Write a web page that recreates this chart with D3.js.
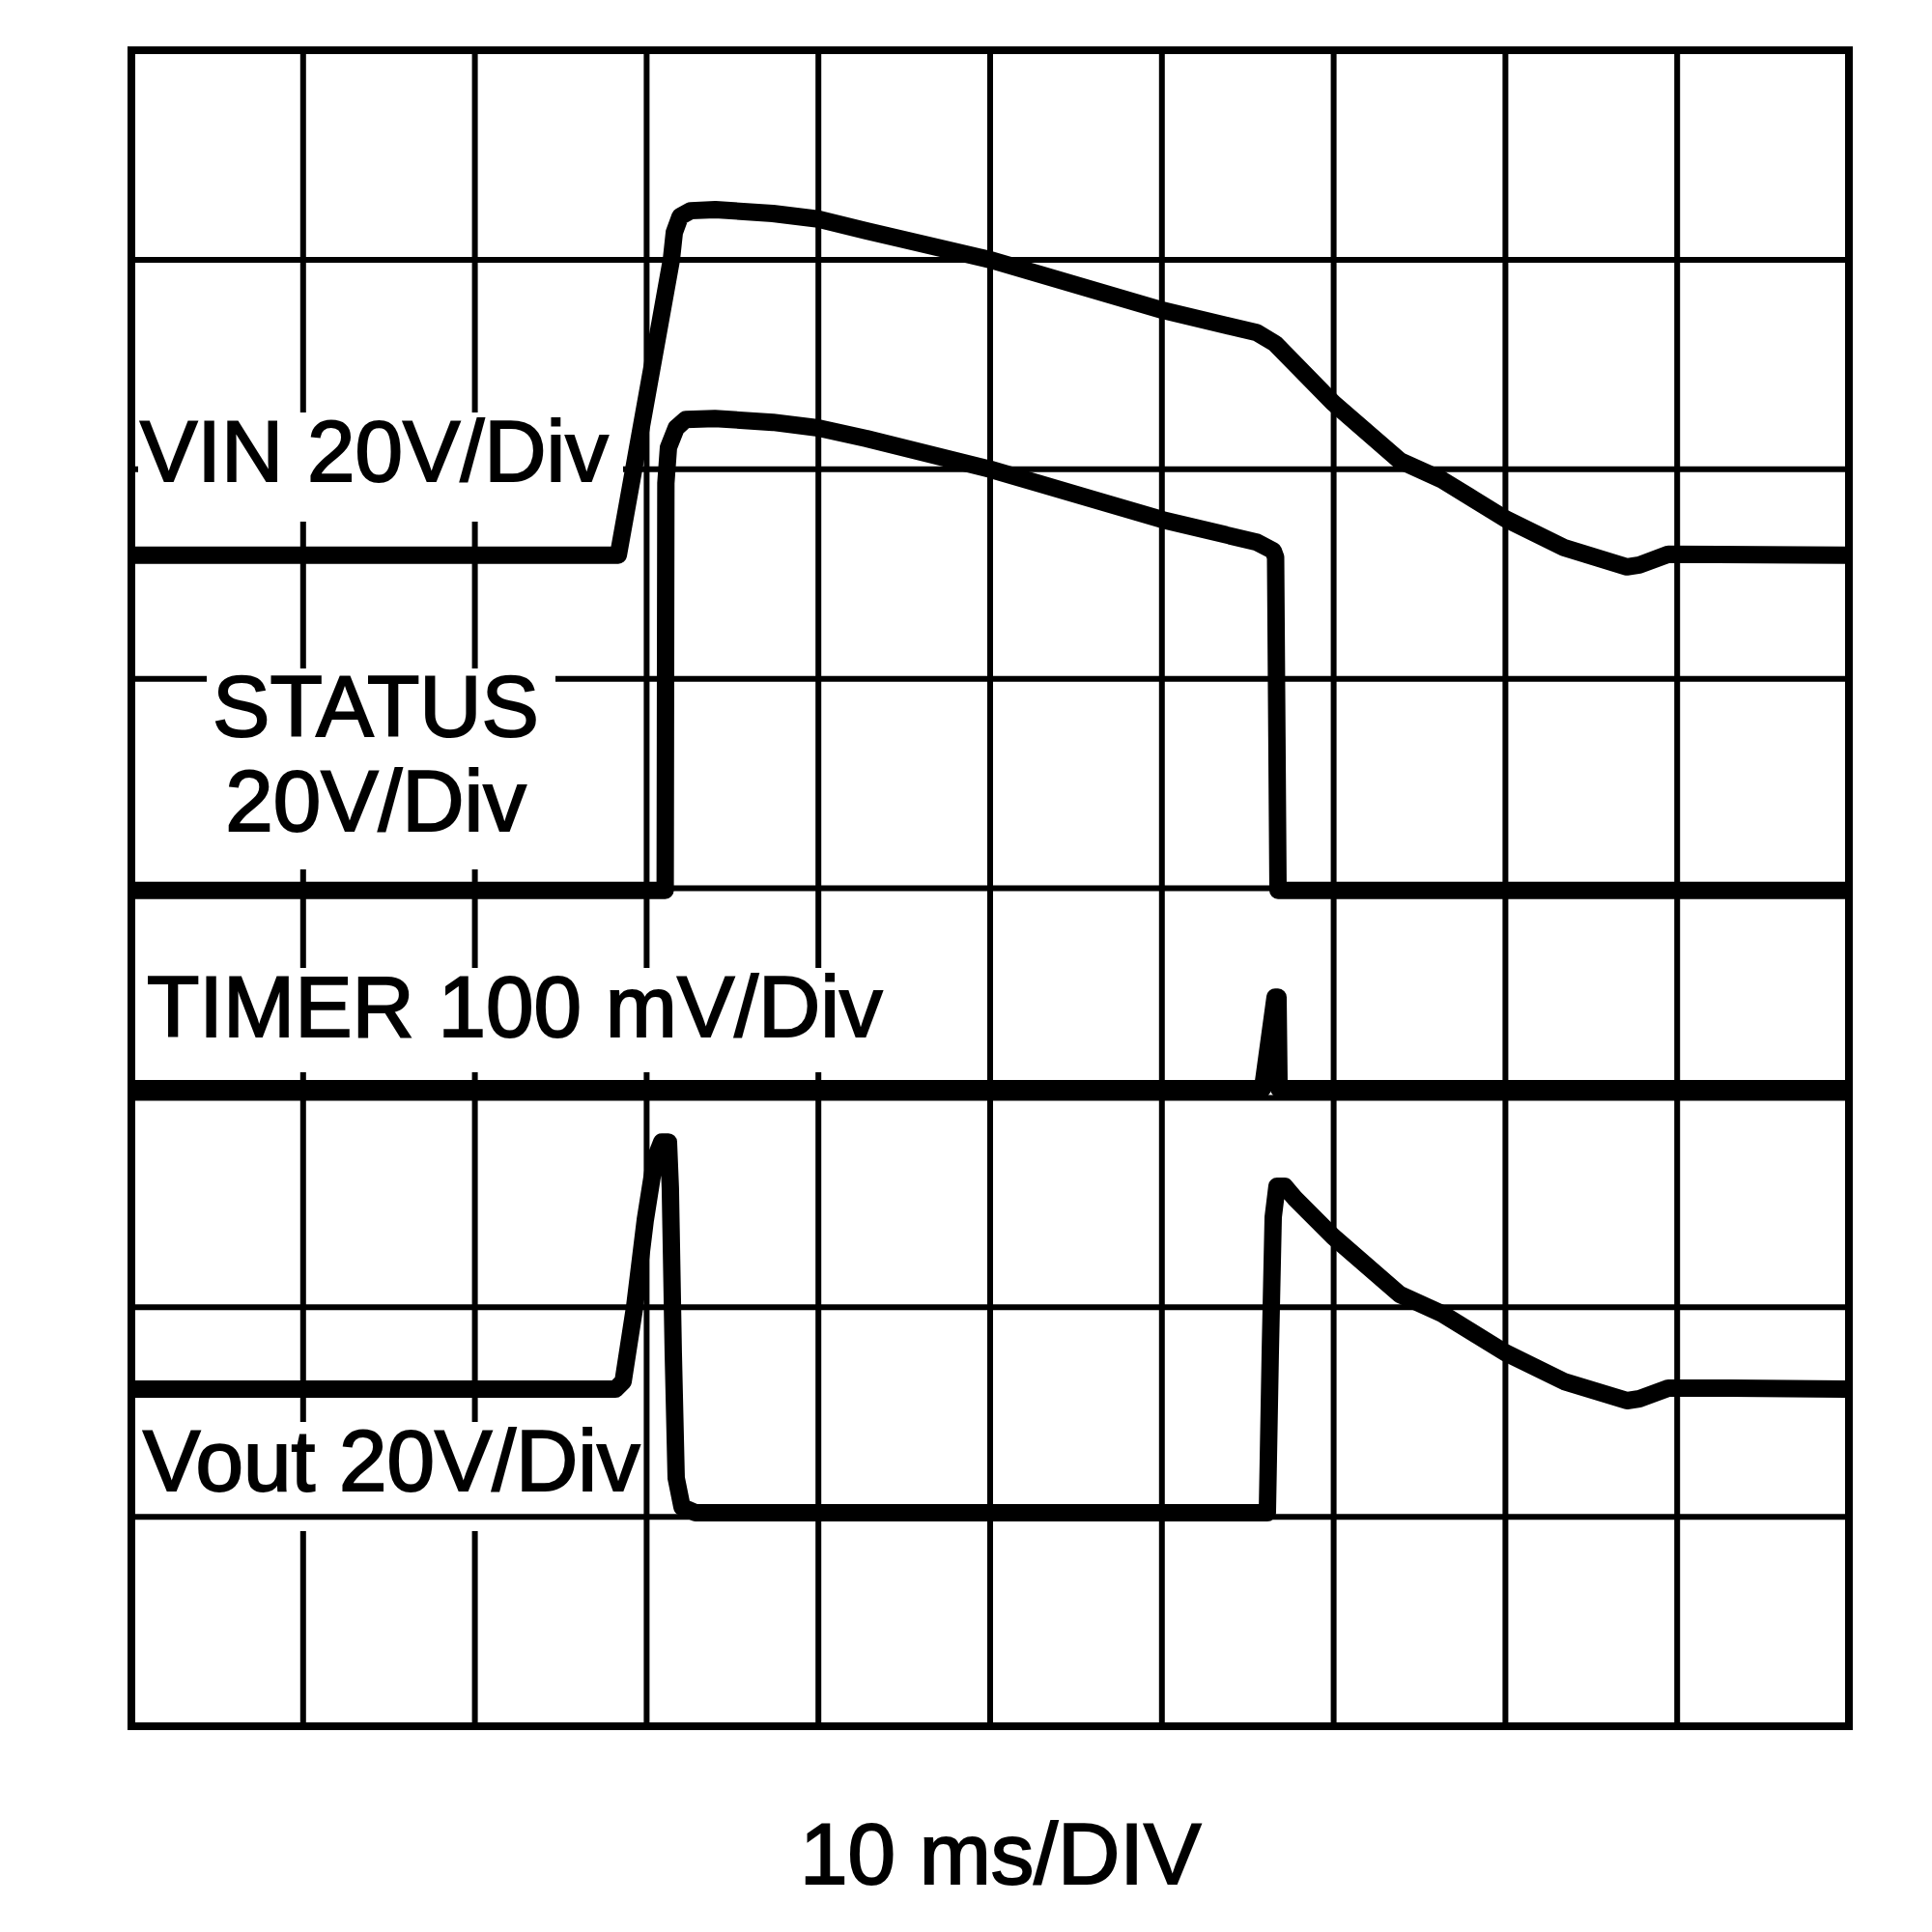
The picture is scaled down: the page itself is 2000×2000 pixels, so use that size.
<!DOCTYPE html>
<html>
<head>
<meta charset="utf-8">
<script src="https://d3js.org/d3.v7.min.js"></script>
<style>
  body { margin: 0; background: #fff; }
  text { font-family: "Liberation Sans", Arial, sans-serif; font-size: 89px; fill: #000; stroke: #000; stroke-width: 2px; }
</style>
</head>
<body>
<svg width="2000" height="2000"></svg>
<script>

// time in ms (10 ms per division), level in divisions from the bottom of the screen
var vinT = [0.2, 28.35, 31.44, 31.61, 31.95, 32.56, 34.0, 37.35, 39.99, 42.8, 50.0, 60.07, 65.52, 66.59, 69.97, 73.85, 76.32, 79.98, 83.41, 87.07, 87.8, 89.48, 99.8];
var vinV = [5.59, 5.59, 7.0, 7.13, 7.206, 7.234, 7.239, 7.221, 7.194, 7.138, 7.0, 6.758, 6.652, 6.6, 6.317, 6.041, 5.949, 5.764, 5.626, 5.534, 5.543, 5.594, 5.59];

var statusT = [0.2, 31.08, 31.12, 31.27, 31.72, 32.28, 33.97, 37.35, 39.99, 42.8, 50.0, 60.07, 65.52, 66.48, 66.62, 66.76, 99.8];
var statusV = [3.99, 3.99, 5.934, 6.104, 6.197, 6.238, 6.242, 6.224, 6.197, 6.146, 6.0, 5.758, 5.652, 5.611, 5.58, 3.99, 3.99];

var timerT = [0.2, 65.86, 66.59, 66.76, 66.82, 99.8];
var timerV = [3.043, 3.043, 3.48, 3.48, 3.043, 3.043];

var voutT = [0.2, 28.18, 28.63, 29.30, 29.92, 30.48, 30.88, 31.27, 31.38, 31.55, 31.72, 32.06, 32.85, 66.14, 66.31, 66.48, 66.7, 67.15, 67.72, 69.97, 73.85, 76.32, 79.98, 83.41, 87.07, 87.8, 89.48, 93.14, 99.8];
var voutV = [1.609, 1.609, 1.646, 2.001, 2.416, 2.706, 2.789, 2.789, 2.568, 1.784, 1.185, 1.047, 1.019, 1.019, 1.784, 2.43, 2.577, 2.577, 2.522, 2.337, 2.061, 1.969, 1.784, 1.646, 1.554, 1.563, 1.614, 1.614, 1.609];

var xDivs = d3.range(0, 101, 10);
var yDivs = d3.range(0, 9, 1);

var labels = [
  {lines: ["VIN 20V/Div"], x: 145, y: 498, anchor: "start", box: [143, 427, 645, 540]},
  {lines: ["STATUS", "20V/Div"], x: 389, y: 762, anchor: "middle", box: [214, 692, 575, 900]},
  {lines: ["TIMER 100 mV/Div"], x: 152, y: 1073, anchor: "start", box: [148, 1002, 915, 1110]},
  {lines: ["Vout 20V/Div"], x: 148, y: 1543, anchor: "start", box: [143, 1472, 662, 1585]}
];
var xTitle = "10 ms/DIV";

var pLeft = 136, pRight = 1914, pTop = 52, pBottom = 1787;

var x = d3.scaleLinear().domain([0, 100]).range([pLeft, pRight]);
var y = d3.scaleLinear().domain([0, 8]).range([pBottom, pTop]);

var svg = d3.select("svg");
svg.append("rect").attr("width", 2000).attr("height", 2000).attr("fill", "#fff");

function box(l) {
  svg.append("rect")
    .attr("x", l.box[0]).attr("y", l.box[1])
    .attr("width", l.box[2] - l.box[0]).attr("height", l.box[3] - l.box[1])
    .attr("fill", "#fff");
}

// vertical graticule
svg.append("g").selectAll("line").data(xDivs).join("line")
    .attr("x1", d => x(d)).attr("x2", d => x(d))
    .attr("y1", pTop).attr("y2", pBottom)
    .attr("stroke", "#000").attr("stroke-width", 6);

// the Vout label only knocks out the vertical lines
box(labels[3]);

svg.append("g").selectAll("line").data(yDivs).join("line")
    .attr("x1", pLeft).attr("x2", pRight)
    .attr("y1", d => y(d)).attr("y2", d => y(d))
    .attr("stroke", "#000").attr("stroke-width", 6);

labels.slice(0, 3).forEach(box);

svg.append("rect")
    .attr("x", pLeft).attr("y", pTop)
    .attr("width", pRight - pLeft).attr("height", pBottom - pTop)
    .attr("fill", "none").attr("stroke", "#000").attr("stroke-width", 8);

var line = d3.line().x(d => x(d[0])).y(d => y(d[1]));

[[vinT, vinV], [statusT, statusV], [timerT, timerV], [voutT, voutV]].forEach(function(s) {
  svg.append("path")
      .datum(d3.zip(s[0], s[1]))
      .attr("d", line)
      .attr("fill", "none")
      .attr("stroke", "#000")
      .attr("stroke-width", 18)
      .attr("stroke-linejoin", "round");
});

labels.forEach(function(l) {
  var t = svg.append("text")
      .attr("x", l.x).attr("y", l.y)
      .attr("text-anchor", l.anchor);
  l.lines.forEach(function(s, i) {
    t.append("tspan").attr("x", l.x).attr("dy", i == 0 ? 0 : 98).text(s);
  });
});

svg.append("text")
    .attr("x", 828).attr("y", 1950)
    .text(xTitle);

</script>
</body>
</html>
